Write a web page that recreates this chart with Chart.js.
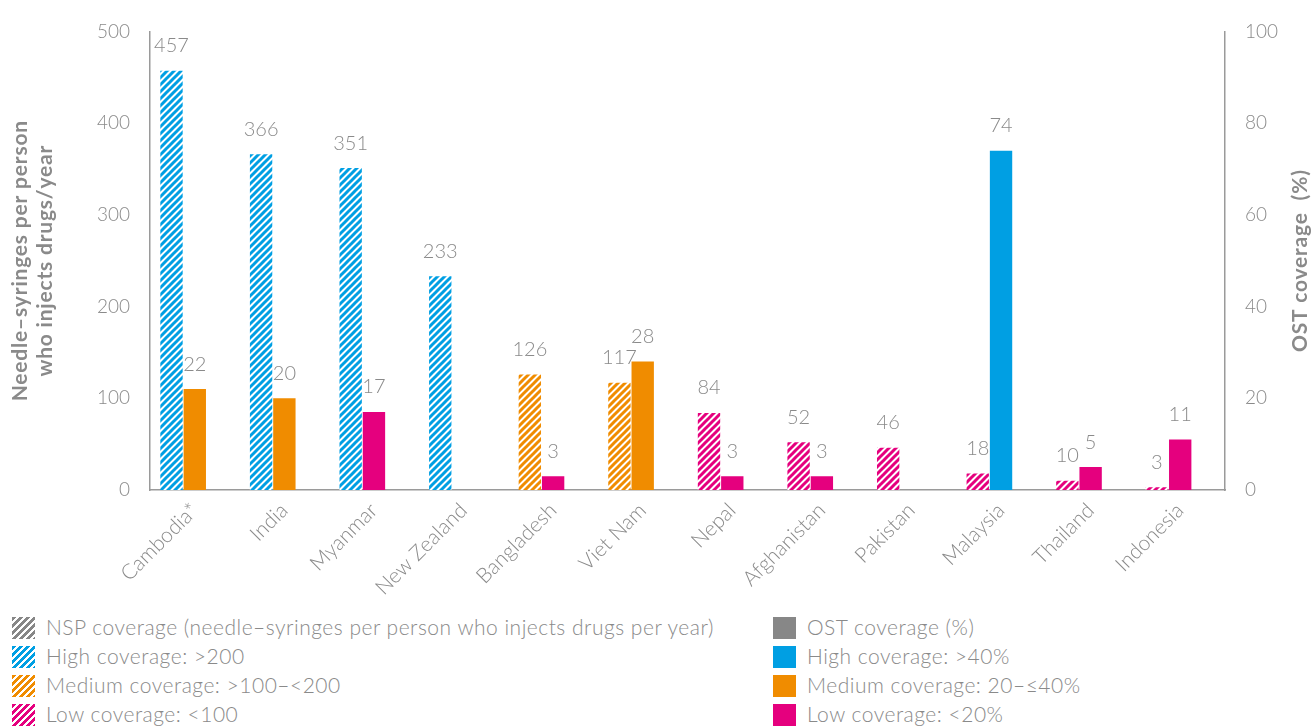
<!DOCTYPE html>
<html>
<head>
<meta charset="utf-8">
<script src="https://cdn.jsdelivr.net/npm/chart.js@4.4.1/dist/chart.umd.min.js"></script>
<style>
  html, body { margin: 0; padding: 0; background: #fff; }
  body { width: 1312px; height: 727px; position: relative; overflow: hidden; font-family: Lato, "Open Sans", sans-serif; }
  #wrap { position: absolute; left: 0; top: 0; width: 1312px; height: 610px; }
  .legend { position: absolute; top: 612px; }
  .legend div { height: 29px; line-height: 29px; font-size: 21px; letter-spacing: 0.5px; color: #8a8a8a; font-weight: 300; white-space: nowrap; }
  .legend span.sw { display: inline-block; width: 23px; height: 22px; vertical-align: -4px; margin-right: 11px; }
</style>
</head>
<body>
<div id="wrap"><canvas id="chart"></canvas></div>
<div class="legend" id="legL" style="left:12px"></div>
<div class="legend" id="legR" style="left:773px"></div>
<script>
// data
const countries = ['Cambodia*', 'India', 'Myanmar', 'New Zealand', 'Bangladesh', 'Viet Nam',
                   'Nepal', 'Afghanistan', 'Pakistan', 'Malaysia', 'Thailand', 'Indonesia'];
const nspValues = [457, 366, 351, 233, 126, 117, 84, 52, 46, 18, 10, 3];
const ostValues = [22, 20, 17, null, 3, 28, 3, 3, null, 74, 5, 11];
const nspTicks = [0, 100, 200, 300, 400, 500];
const ostTicks = [0, 20, 40, 60, 80, 100];

const BLUE = '#009fe3', ORANGE = '#f08c00', PINK = '#e5007e', GREY = '#878787';
const TEXT = '#8a8a8a';

function nspColor(v) { return v > 200 ? BLUE : (v >= 100 ? ORANGE : PINK); }
function ostColor(v) { return v > 40 ? BLUE : (v >= 20 ? ORANGE : PINK); }

// diagonal hatch pattern
function hatch(color) {
    const s = 7;
    const c = document.createElement('canvas');
    c.width = s; c.height = s;
    const g = c.getContext('2d');
    g.fillStyle = '#fff';
    g.fillRect(0, 0, s, s);
    g.strokeStyle = color;
    g.lineWidth = 3;
    g.beginPath();
    g.moveTo(-1, s + 1); g.lineTo(s + 1, -1);
    g.moveTo(-1, 1); g.lineTo(1, -1);
    g.moveTo(s - 1, s + 1); g.lineTo(s + 1, s - 1);
    g.stroke();
    return g.createPattern(c, 'repeat');
}
const patterns = {};
[BLUE, ORANGE, PINK].forEach(c => patterns[c] = hatch(c));

// value labels above bars
const valueLabels = {
    id: 'valueLabels',
    afterDatasetsDraw(chart) {
        const ctx = chart.ctx;
        ctx.save();
        ctx.font = '300 20px Lato';
        ctx.fillStyle = TEXT;
        ctx.textAlign = 'center';
        ctx.textBaseline = 'middle';
        [0, 1].forEach(di => {
            const meta = chart.getDatasetMeta(di);
            meta.data.forEach((bar, i) => {
                const v = chart.data.datasets[di].data[i];
                if (v == null) return;
                ctx.fillText(String(v), bar.x, bar.y - 25);
            });
        });
        ctx.restore();
    }
};

// axis titles (both read bottom to top)
function vText(ctx, lines, x, y) {
    ctx.save();
    ctx.font = 'bold 21px Lato';
    ctx.letterSpacing = '0.8px';
    ctx.fillStyle = TEXT;
    ctx.textAlign = 'center';
    ctx.textBaseline = 'middle';
    ctx.translate(x, y);
    ctx.rotate(-Math.PI / 2);
    lines.forEach((t, i) => ctx.fillText(t, 0, i * 25));
    ctx.restore();
}
const axisTitles = {
    id: 'axisTitles',
    afterDraw(chart) {
        const area = chart.chartArea;
        const cy = (area.top + area.bottom) / 2;
        vText(chart.ctx, ['Needle–syringes per person', 'who injects drugs/year'], 20, cy);
        vText(chart.ctx, ['OST coverage  (%)'], 1300, cy);
    }
};

const tickFont = { family: 'Lato', size: 19, weight: '300' };

new Chart(document.getElementById('chart'), {
    type: 'bar',
    data: {
        labels: countries,
        datasets: [
            {
                label: 'NSP coverage',
                data: nspValues,
                yAxisID: 'y',
                backgroundColor: nspValues.map(v => patterns[nspColor(v)]),
                barPercentage: 0.96,
                categoryPercentage: 0.78
            },
            {
                label: 'OST coverage (%)',
                data: ostValues,
                yAxisID: 'y1',
                backgroundColor: ostValues.map(v => v == null ? 'transparent' : ostColor(v)),
                barPercentage: 0.96,
                categoryPercentage: 0.78
            },
            {
                // empty spacer slot, keeps the pair left of the category centre
                label: '',
                data: countries.map(() => null),
                yAxisID: 'y',
                categoryPercentage: 0.78
            }
        ]
    },
    options: {
        responsive: true,
        maintainAspectRatio: false,
        animation: false,
        layout: { padding: { top: 28, bottom: 0, left: 0, right: 0 } },
        plugins: { legend: { display: false }, tooltip: { enabled: false } },
        scales: {
            x: {
                grid: { display: false, drawTicks: false },
                border: { display: true, color: '#9a9a9a', width: 1.5 },
                ticks: { color: TEXT, font: { family: 'Lato', size: 21, weight: '300' },
                         maxRotation: 45, minRotation: 45, padding: 8 },
                afterFit(s) { s.height = 120; }
            },
            y: {
                position: 'left',
                min: 0, max: 500,
                afterBuildTicks(s) { s.ticks = nspTicks.map(v => ({ value: v })); },
                grid: { display: false, drawTicks: false },
                border: { display: true, color: '#9a9a9a', width: 1.5 },
                ticks: { color: TEXT, font: tickFont, padding: 20 },
                afterFit(s) { s.width = 150; }
            },
            y1: {
                position: 'right',
                min: 0, max: 100,
                afterBuildTicks(s) { s.ticks = ostTicks.map(v => ({ value: v })); },
                grid: { display: false, drawTicks: false },
                border: { display: true, color: '#9a9a9a', width: 1.5 },
                ticks: { color: TEXT, font: tickFont, padding: 20 },
                afterFit(s) { s.width = 87; }
            }
        }
    },
    plugins: [valueLabels, axisTitles]
});

// legend (two columns)
function hatchCss(c) {
    return 'repeating-linear-gradient(135deg, ' + c + ' 0 3px, #fff 3px 5px)';
}
const legLeft = [
    [GREY, 'NSP coverage (needle–syringes per person who injects drugs per year)'],
    [BLUE, 'High coverage: >200'],
    [ORANGE, 'Medium coverage: >100–<200'],
    [PINK, 'Low coverage: <100']
];
const legRight = [
    [GREY, 'OST coverage (%)'],
    [BLUE, 'High coverage: >40%'],
    [ORANGE, 'Medium coverage: 20–≤40%'],
    [PINK, 'Low coverage: <20%']
];
document.getElementById('legL').innerHTML = legLeft.map(r =>
    '<div><span class="sw" style="background:' + hatchCss(r[0]) + '"></span>' + r[1].replace(/</g, '&lt;') + '</div>').join('');
document.getElementById('legR').innerHTML = legRight.map(r =>
    '<div><span class="sw" style="background:' + r[0] + '"></span>' + r[1].replace(/</g, '&lt;') + '</div>').join('');
</script>
</body>
</html>
